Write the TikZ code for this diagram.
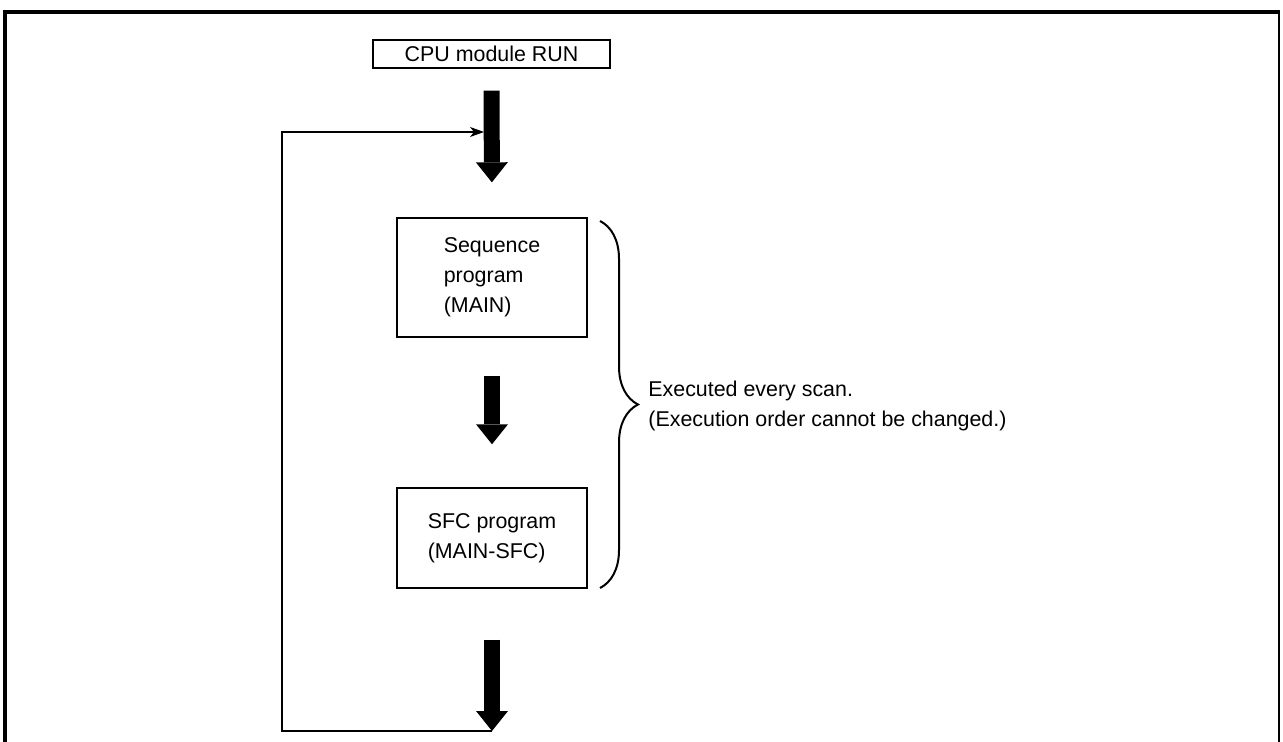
\documentclass[tikz,border=0pt]{standalone}
\usepackage{fontspec}
\setmainfont{Liberation Sans}
\usetikzlibrary{decorations.pathreplacing}
\usetikzlibrary{arrows.meta}

\begin{document}
\begin{tikzpicture}[
    % one unit = one pixel of the scan, y runs downwards
    x=0.5pt, y=-0.5pt,
    box/.style={rectangle, draw, line width=0.7pt, align=left, inner sep=0pt, font=\fontsize{10.7}{15}\selectfont},
    note/.style={align=left, inner sep=0pt, font=\fontsize{10.7}{15}\selectfont},
    fat arrow/.style={line width=8pt, -{Triangle[width=16pt, length=10pt, line width=0pt]}},
    loop line/.style={line width=0.6pt, -{Stealth[length=7pt, width=5pt, inset=2pt]}}
]
    \useasboundingbox (0,0) rectangle (1283,742);

    % 1. Frame (open at the bottom)
    \draw[line width=2pt] (4.7,742) -- (4.7,12) -- (1280,12);
    \draw[line width=1pt] (1279,12) -- (1279,742);

    % 2. Program boxes
    \node[box, minimum width=118.5pt, minimum height=14pt, align=center] (cpu) at (491.5,54) {CPU module RUN};
    \node[box, minimum width=95pt, minimum height=59.5pt] (seq) at (492,277.5) {Sequence\\ program\\ (MAIN)};
    \node[box, minimum width=95pt, minimum height=50pt] (sfc) at (492,538) {SFC program\\ (MAIN-SFC)};

    % 3. Scan arrows
    \coordinate (bottom) at (492,731);
    \coordinate (corner) at (282,731);
    \coordinate (loopin) at (484,132);
    \draw[fat arrow, shorten <=11pt, shorten >=17.5pt] (cpu.south) -- (seq.north);
    \draw[fat arrow, shorten <=19pt, shorten >=21.5pt] (seq.south) -- (sfc.north);
    \draw[fat arrow, shorten <=25.5pt] (sfc.south) -- (bottom);

    % 4. Return loop
    \draw[loop line] (bottom) -- (corner) |- (loopin);

    % 5. Brace and comment
    \draw[line width=1pt, decorate, decoration={brace, amplitude=19pt}] (600,221) -- (600,588);
    \node[note, anchor=west] (scan) at (648,406) {Executed every scan.\\ (Execution order cannot be changed.)};

\end{tikzpicture}
\end{document}
